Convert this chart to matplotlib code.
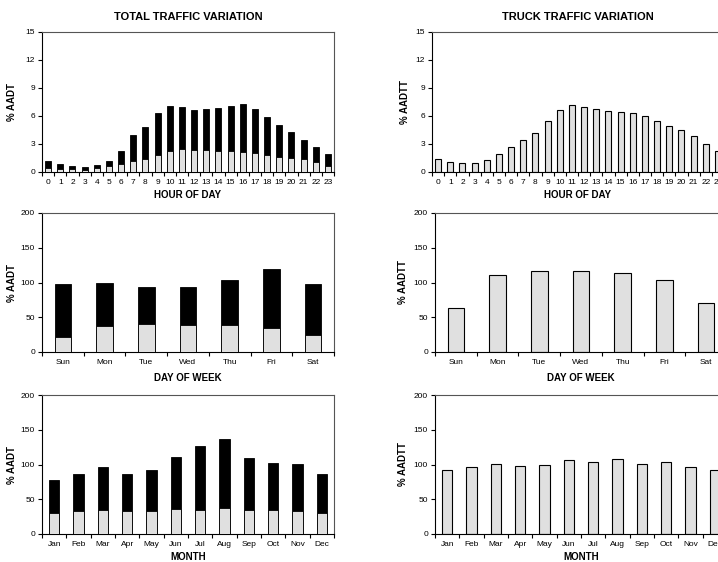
import matplotlib
matplotlib.use("Agg")
import matplotlib.pyplot as plt
import numpy as np

plt.rcParams['font.family'] = ['Liberation Sans', 'DejaVu Sans']

# hourly data (% of AADT / AADTT)
hours = [str(h) for h in range(24)]
hour_total = [1.2, 0.85, 0.65, 0.55, 0.75, 1.2, 2.2, 3.95, 4.85, 6.3, 7.1, 7.0,
              6.6, 6.7, 6.9, 7.1, 7.3, 6.8, 5.9, 5.05, 4.25, 3.45, 2.7, 1.9]
hour_truck_part = [0.45, 0.35, 0.3, 0.25, 0.4, 0.68, 0.86, 1.14, 1.36, 1.86, 2.2, 2.43,
                   2.32, 2.32, 2.2, 2.2, 2.1, 2.04, 1.82, 1.64, 1.54, 1.36, 1.04, 0.68]
hour_truck = [1.4, 1.1, 1.0, 1.0, 1.3, 1.9, 2.7, 3.45, 4.15, 5.45, 6.6, 7.2,
              7.0, 6.8, 6.5, 6.4, 6.3, 6.0, 5.45, 4.95, 4.55, 3.85, 3.05, 2.2]

# day of week data
days = ['Sun', 'Mon', 'Tue', 'Wed', 'Thu', 'Fri', 'Sat']
day_total = [97.5, 99, 94, 94, 103, 119, 97.5]
day_truck_part = [21.5, 37.5, 40, 39, 39, 34.5, 24.5]
day_truck = [63, 110.5, 117, 116, 113.5, 103, 70.5]

# monthly data
months = ['Jan', 'Feb', 'Mar', 'Apr', 'May', 'Jun', 'Jul', 'Aug', 'Sep', 'Oct', 'Nov', 'Dec']
month_total = [77, 87, 96.5, 86, 92.5, 111, 126.5, 137, 110, 101.5, 100.5, 86]
month_truck_part = [30.5, 32.5, 35, 33.5, 33.5, 36, 35, 37.5, 35, 35, 32.5, 30.5]
month_truck = [92.5, 96.5, 101, 97.5, 99, 107, 103, 108.5, 101, 104, 96.5, 91.5]

GREY = '#e0e0e0'
W, H = 718, 562

fig = plt.figure(figsize=(W / 100, H / 100), dpi=100)


def make_ax(left, top, bottom, width=292):
    return fig.add_axes([left / W, (H - bottom) / H, width / W, (bottom - top) / H])


def style(ax, cats, ymax, ystep, xlabel, ylabel, labelpad_x=2, labelpad_y=4):
    n = len(cats)
    ax.set_xlim(-0.5, n - 0.5)
    ax.set_ylim(0, ymax)
    ax.set_yticks(np.arange(0, ymax + 0.01, ystep))
    ax.set_xticks(np.arange(n))
    ax.set_xticklabels(cats)
    ax.set_xticks(np.arange(n + 1) - 0.5, minor=True)
    ax.tick_params(axis='x', which='major', length=0, labelsize=6, pad=5)
    ax.tick_params(axis='x', which='minor', length=3, width=0.8, direction='out')
    ax.tick_params(axis='y', length=3, width=0.8, labelsize=6, pad=2)
    for s in ax.spines.values():
        s.set_linewidth(0.8)
    ax.spines['top'].set_color('#555555')
    ax.spines['right'].set_color('#555555')
    ax.set_xlabel(xlabel, fontsize=7, fontweight='bold', labelpad=labelpad_x)
    ax.set_ylabel(ylabel, fontsize=7, fontweight='bold', labelpad=labelpad_y)


def stacked(ax, cats, total, part, width):
    x = np.arange(len(cats))
    ax.bar(x, total, width=width, color='black', edgecolor='black', linewidth=0.6, zorder=2)
    ax.bar(x, part, width=width, color=GREY, edgecolor='black', linewidth=0.6, zorder=3)


def single(ax, cats, vals, width):
    x = np.arange(len(cats))
    ax.bar(x, vals, width=width, color=GREY, edgecolor='black', linewidth=0.8, zorder=2)


# hour of day
ax1 = make_ax(42, 32, 172)
stacked(ax1, hours, hour_total, hour_truck_part, 0.5)
style(ax1, hours, 15, 3, 'HOUR OF DAY', '% AADT', labelpad_x=3, labelpad_y=6)
ax1.set_title('TOTAL TRAFFIC VARIATION', fontsize=8, fontweight='bold', pad=9)

ax2 = make_ax(432, 32, 172)
single(ax2, hours, hour_truck, 0.5)
style(ax2, hours, 15, 3, 'HOUR OF DAY', '% AADTT', labelpad_x=3, labelpad_y=4)
ax2.set_title('TRUCK TRAFFIC VARIATION', fontsize=8, fontweight='bold', pad=9)

# day of week
ax3 = make_ax(42, 213, 352)
stacked(ax3, days, day_total, day_truck_part, 0.4)
style(ax3, days, 200, 50, 'DAY OF WEEK', '% AADT', labelpad_x=5, labelpad_y=3)

ax4 = make_ax(435, 213, 352)
single(ax4, days, day_truck, 0.4)
style(ax4, days, 200, 50, 'DAY OF WEEK', '% AADTT', labelpad_x=5, labelpad_y=4)

# month
ax5 = make_ax(42, 395, 534)
stacked(ax5, months, month_total, month_truck_part, 0.42)
style(ax5, months, 200, 50, 'MONTH', '% AADT', labelpad_x=3, labelpad_y=3)

ax6 = make_ax(435, 395, 534)
single(ax6, months, month_truck, 0.42)
style(ax6, months, 200, 50, 'MONTH', '% AADTT', labelpad_x=3, labelpad_y=4)

fig.savefig('out.png', dpi=100)
